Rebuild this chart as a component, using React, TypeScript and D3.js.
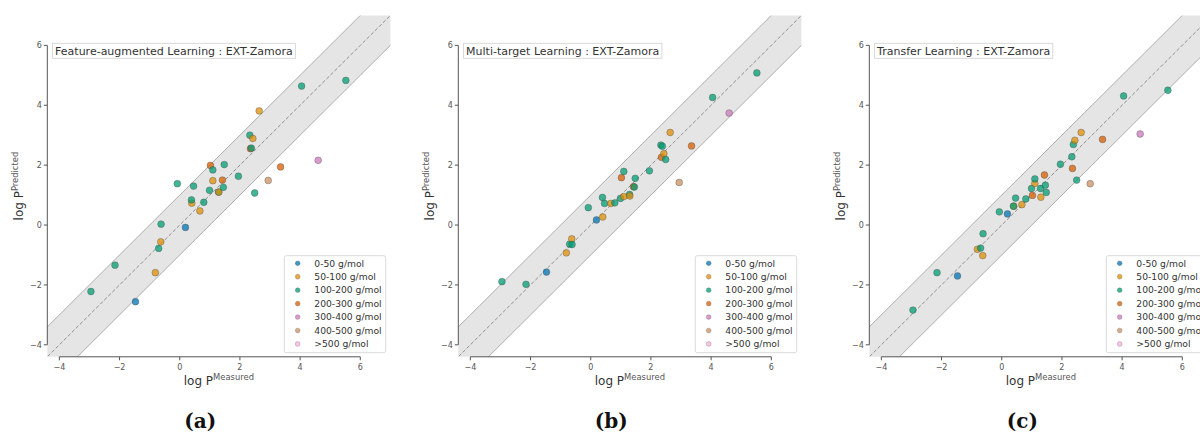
import React from 'react';
import * as d3 from 'd3';

// log P measured (same compounds in all three panels)
const measured = [
  -2.95, -2.15, -1.47, -0.81, -0.7, -0.63, -0.62, -0.08, 0.19, 0.4, 0.39, 0.46,
  0.67, 0.8, 0.99, 1.02, 1.1, 1.1, 1.29, 1.3, 1.42, 1.45, 1.48, 1.95, 2.33,
  2.35, 2.38, 2.43, 2.49, 2.64, 2.94, 3.35, 4.05, 4.6, 5.52,
];
// molar mass bin index of each compound
const bins = [
  2, 2, 0, 1, 2, 1, 2, 2, 0, 1, 2, 2, 1, 2, 2, 3, 1, 2, 2, 1, 3, 2, 2, 2, 2, 3,
  2, 1, 2, 1, 5, 3, 2, 4, 2,
];
const predFeature = [
  -2.22, -1.34, -2.56, -1.59, -0.78, -0.56, 0.03, 1.38, -0.08, 0.73, 0.84, 1.3,
  0.47, 0.76, 1.16, 1.99, 1.48, 1.84, 1.1, 1.1, 1.5, 1.26, 2.02, 1.63, 3.0,
  2.55, 2.57, 2.89, 1.07, 3.81, 1.49, 1.94, 4.64, 2.16, 4.83,
];
const predMulti = [
  -1.89, -1.98, -1.57, -0.93, -0.64, -0.46, -0.65, 0.58, 0.17, 0.27, 0.92, 0.72,
  0.72, 0.74, 0.89, 1.58, 0.95, 1.79, 1.02, 0.97, 1.28, 1.27, 1.56, 1.81, 2.67,
  2.26, 2.63, 2.38, 2.19, 3.09, 1.42, 2.64, 4.26, 3.74, 5.08,
];
const predTransfer = [
  -2.84, -1.59, -1.7, -0.81, -0.77, -1.02, -0.29, 0.44, 0.37, 0.63, 0.63, 0.9,
  0.68, 0.87, 1.22, 0.99, 1.39, 1.54, 1.22, 0.93, 1.67, 1.33, 1.09, 2.03, 2.28,
  1.89, 2.69, 2.83, 1.5, 3.09, 1.38, 2.86, 4.31, 3.04, 4.5,
];

const binLabels = [
  '0-50 g/mol',
  '50-100 g/mol',
  '100-200 g/mol',
  '200-300 g/mol',
  '300-400 g/mol',
  '400-500 g/mol',
  '>500 g/mol',
];
const binColors = ['#0173b2', '#de8f05', '#029e73', '#d55e00', '#cc78bc', '#ca9161', '#fbafe4'];

const panelTitles = [
  'Feature-augmented Learning : EXT-Zamora',
  'Multi-target Learning : EXT-Zamora',
  'Transfer Learning : EXT-Zamora',
];
const panelPreds = [predFeature, predMulti, predTransfer];
const panelCaptions = ['(a)', '(b)', '(c)'];
const ticks = [-4, -2, 0, 2, 4, 6];

const FONT = '"DejaVu Sans", sans-serif';

export default function App() {
  const svgRef = React.useRef<SVGSVGElement>(null);

  React.useEffect(() => {
    const svg = d3.select(svgRef.current);
    svg.selectAll('*').remove();

    const defs = svg.append('defs');

    panelTitles.forEach((title, p) => {
      const left = 47.3 + p * 411;
      const x = d3.scaleLinear().domain([-4.4, 7]).range([left, left + 343.1]);
      const y = d3.scaleLinear().domain([-4.4, 7]).range([356.8, 15.4]);
      const g = svg.append('g');

      defs
        .append('clipPath')
        .attr('id', `clip${p}`)
        .append('rect')
        .attr('x', x(-4.4))
        .attr('y', y(7))
        .attr('width', x(7) - x(-4.4))
        .attr('height', y(-4.4) - y(7));

      const plot = g.append('g').attr('clip-path', `url(#clip${p})`);

      // +/- 1 log unit band
      const lo = -6;
      const hi = 9;
      plot
        .append('path')
        .attr(
          'd',
          `M${x(lo)},${y(lo + 1)}L${x(hi)},${y(hi + 1)}L${x(hi)},${y(hi - 1)}L${x(lo)},${y(lo - 1)}Z`
        )
        .attr('fill', '#e5e5e5');
      [1, -1].forEach((off) => {
        plot
          .append('line')
          .attr('x1', x(lo))
          .attr('y1', y(lo + off))
          .attr('x2', x(hi))
          .attr('y2', y(hi + off))
          .attr('stroke', '#9c9c9c')
          .attr('stroke-width', 0.8);
      });
      plot
        .append('line')
        .attr('x1', x(lo))
        .attr('y1', y(lo))
        .attr('x2', x(hi))
        .attr('y2', y(hi))
        .attr('stroke', '#8f8f8f')
        .attr('stroke-width', 1)
        .attr('stroke-dasharray', '3.7,2');

      // points
      plot
        .selectAll('.pt')
        .data(measured.map((m, i) => ({ m, v: panelPreds[p][i], b: bins[i] })))
        .enter()
        .append('circle')
        .attr('cx', (d) => x(d.m))
        .attr('cy', (d) => y(d.v))
        .attr('r', 3.4)
        .attr('fill', (d) => binColors[d.b])
        .attr('fill-opacity', 0.75)
        .attr('stroke', '#4a4a4a')
        .attr('stroke-opacity', 0.6)
        .attr('stroke-width', 0.6);

      // trimmed spines
      g.append('line')
        .attr('x1', x(-4.4))
        .attr('x2', x(-4.4))
        .attr('y1', y(-4))
        .attr('y2', y(6))
        .attr('stroke', '#555')
        .attr('stroke-width', 1);
      g.append('line')
        .attr('x1', x(-4))
        .attr('x2', x(6))
        .attr('y1', y(-4.4))
        .attr('y2', y(-4.4))
        .attr('stroke', '#555')
        .attr('stroke-width', 1);

      ticks.forEach((t) => {
        g.append('line')
          .attr('x1', x(-4.4))
          .attr('x2', x(-4.4) - 3.5)
          .attr('y1', y(t))
          .attr('y2', y(t))
          .attr('stroke', '#555');
        g.append('text')
          .attr('x', x(-4.4) - 5.5)
          .attr('y', y(t) + 2.8)
          .attr('text-anchor', 'end')
          .attr('font-family', FONT)
          .attr('font-size', 8)
          .attr('fill', '#555')
          .text(d3.format('')(t).replace('-', '\u2212'));
        g.append('line')
          .attr('x1', x(t))
          .attr('x2', x(t))
          .attr('y1', y(-4.4))
          .attr('y2', y(-4.4) + 3.5)
          .attr('stroke', '#555');
        g.append('text')
          .attr('x', x(t))
          .attr('y', y(-4.4) + 13)
          .attr('text-anchor', 'middle')
          .attr('font-family', FONT)
          .attr('font-size', 8)
          .attr('fill', '#555')
          .text(d3.format('')(t).replace('-', '\u2212'));
      });

      // axis labels
      const xl = g
        .append('text')
        .attr('x', (x(-4.4) + x(7)) / 2)
        .attr('y', 385)
        .attr('text-anchor', 'middle')
        .attr('font-family', FONT)
        .attr('font-size', 12)
        .attr('fill', '#333');
      xl.append('tspan').text('log P');
      xl.append('tspan').attr('dy', -5).attr('font-size', 8.4).attr('fill', '#555').text('Measured');

      const yl = g
        .append('text')
        .attr('transform', `translate(${left - 24},${(y(-4.4) + y(7)) / 2}) rotate(-90)`)
        .attr('text-anchor', 'middle')
        .attr('font-family', FONT)
        .attr('font-size', 12)
        .attr('fill', '#333');
      yl.append('tspan').text('log P');
      yl.append('tspan').attr('dy', -5).attr('font-size', 8.4).attr('fill', '#555').text('Predicted');

      // title box
      const tb = g.append('g');
      const tbRect = tb
        .append('rect')
        .attr('x', left + 5.2)
        .attr('y', 43.3)
        .attr('height', 15)
        .attr('fill', 'white')
        .attr('stroke', '#d0d0d0')
        .attr('stroke-width', 0.8);
      const tt = tb
        .append('text')
        .attr('x', left + 7.8)
        .attr('y', 54.6)
        .attr('font-family', FONT)
        .attr('font-size', 11)
        .attr('fill', '#333')
        .text(title);
      const tw = (tt.node() as SVGTextElement).getComputedTextLength();
      tbRect.attr('width', tw + 5.2);

      // legend
      const lg = g.append('g').attr('transform', `translate(${left + 237},255.7)`);
      lg.append('rect')
        .attr('width', 101.4)
        .attr('height', 97)
        .attr('rx', 2)
        .attr('fill', 'white')
        .attr('fill-opacity', 0.85)
        .attr('stroke', '#d0d0d0')
        .attr('stroke-width', 0.8);
      binLabels.forEach((lab, k) => {
        const cy = 7.6 + k * 13.45;
        lg.append('circle')
          .attr('cx', 13.4)
          .attr('cy', cy)
          .attr('r', 2.4)
          .attr('fill', binColors[k])
          .attr('fill-opacity', 0.75)
          .attr('stroke', '#4a4a4a')
          .attr('stroke-opacity', 0.5)
          .attr('stroke-width', 0.5);
        lg.append('text')
          .attr('x', 30)
          .attr('y', cy + 3.3)
          .attr('font-family', FONT)
          .attr('font-size', 9.2)
          .attr('fill', '#333')
          .text(lab);
      });

      // caption
      svg
        .append('text')
        .attr('x', left + 153)
        .attr('y', 428)
        .attr('text-anchor', 'middle')
        .attr('font-family', '"DejaVu Serif", serif')
        .attr('font-weight', 'bold')
        .attr('font-size', 20)
        .attr('fill', '#111')
        .text(panelCaptions[p]);
    });
  }, []);

  return (
    <svg
      ref={svgRef}
      width={1200}
      height={434}
      style={{ position: 'absolute', left: 0, top: 0, background: 'white' }}
    ></svg>
  );
}
